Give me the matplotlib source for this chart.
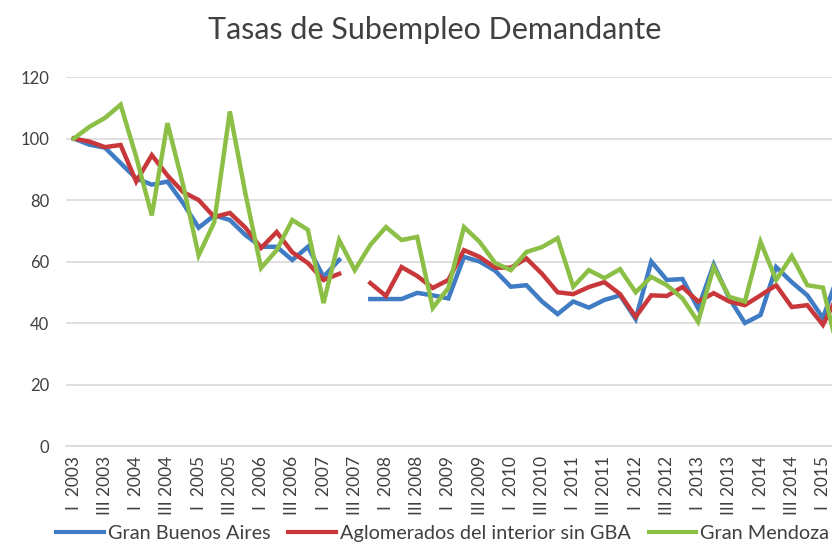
import numpy as np
import matplotlib
matplotlib.use("Agg")
import matplotlib.pyplot as plt

plt.rcParams['font.family'] = ['Lato', 'DejaVu Sans']

# quarters I 2003 .. II 2015
years = list(range(2003, 2016))
roman = ["I  ", "II ", "III ", "IV "]
quarters = [f"{q}{y}" for y in years for q in roman][:50]

nan = np.nan
gba = [100, 98, 97, 92, 87, 85, 86, 79, 71, 75, 73.5, 68.6, 64.8, 64.8, 60.5, 64.8, 55, 60.5, nan,
       47.8, 47.8, 47.8, 49.8, 49, 48, 61.5, 60, 57, 51.8, 52.3, 47, 42.9, 47, 45, 47.5, 49, 41.3,
       60, 54, 54.3, 44.8, 59, 48, 40, 42.6, 58.2, 53.3, 49, 41.6, 56]
interior = [100, 99, 97.2, 97.9, 86, 94.6, 88, 82.6, 80, 74.5, 75.8, 71, 64.4, 69.6, 63, 59.5, 54, 56, nan,
            53, 48.8, 58.2, 55.3, 51.4, 54, 63.7, 61.5, 58, 58, 61, 56, 50, 49.4, 51.7, 53.3, 49.4, 42,
            49, 48.8, 51.7, 47, 49.7, 47, 45.8, 49, 52.3, 45.2, 45.8, 39.4, 49.5]
mendoza = [100, 103.8, 106.7, 111, 94, 75, 105, 85, 62, 72.8, 108.8, 82, 57.9, 63.7, 73.5, 70.3, 46.5, 67,
           57.2, 65.4, 71.2, 67, 68, 44.9, 51.4, 71.2, 66.4, 59.5, 57.2, 63.1, 64.7, 67.6, 51.8, 57.2,
           54.6, 57.5, 50, 55, 52.3, 48, 40.4, 58.2, 48.5, 47, 66.4, 54, 61.8, 52.3, 51.5, 30]

series = [("Gran Buenos Aires", gba, "#3f7cc4"),
          ("Aglomerados del interior sin GBA", interior, "#c8383b"),
          ("Gran Mendoza", mendoza, "#8cbf45")]

fig = plt.figure(figsize=(8.32, 5.47), dpi=100)
ax = fig.add_axes([0.0793, 0.1846, 0.9207, 0.6746])

x = np.arange(len(quarters))
for name, vals, col in series:
    ax.plot(x, vals, color=col, lw=3.2, label=name, solid_joinstyle='miter')

ax.set_ylim(0, 120)
ax.set_yticks(range(0, 121, 20))
ax.set_xlim(-0.5, 48.58)
ax.set_xticks(x[::2])
ax.set_xticklabels(quarters[::2], rotation=90)
ax.grid(axis='y', color='#d9d9d9', lw=1.2)
ax.set_axisbelow(True)
for s in ['top', 'right', 'left']:
    ax.spines[s].set_visible(False)
ax.spines['bottom'].set_color('#d9d9d9')
ax.spines['bottom'].set_linewidth(1.2)
ax.tick_params(axis='both', length=0, colors='#404040')
ax.tick_params(axis='y', labelsize=12, pad=12)
ax.tick_params(axis='x', labelsize=12.5, pad=7)

fig.text(0.522, 0.945, "Tasas de Subempleo Demandante", ha='center', va='center',
         fontsize=22, color='#404040')

leg = fig.legend(loc='center', bbox_to_anchor=(0.532, 0.024), ncol=3, frameon=True,
                 fontsize=14.3, handlelength=2.4, handletextpad=0.2, columnspacing=0.9,
                 borderpad=0.1, labelcolor='#404040')
leg.get_frame().set_facecolor('white')
leg.get_frame().set_edgecolor('none')
for line in leg.get_lines():
    line.set_linewidth(3)

fig.savefig("out.png", dpi=100)
